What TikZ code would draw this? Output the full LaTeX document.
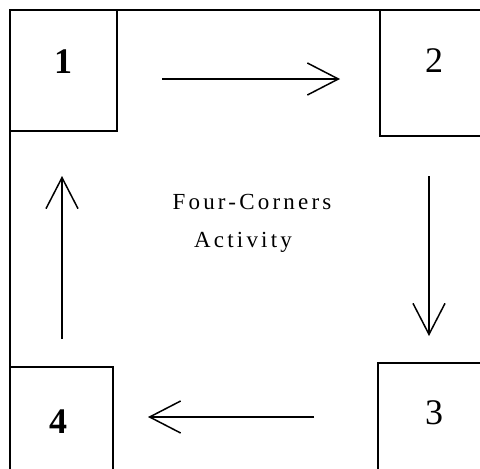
\documentclass[tikz,border=0pt]{standalone}
\usepackage{fontspec}
\setmainfont{Liberation Serif}
\usetikzlibrary{positioning,arrows.meta}
\tikzstyle{corners} = [x = 1pt, y = -1pt]
\tikzstyle{cornerBox} = [draw, rectangle, line width = 2pt, inner sep = 0pt]
\tikzstyle{cornerNumber} = [font=\fontsize{36}{40}\selectfont, anchor=base]
\tikzstyle{frameLine} = [line width = 2pt]
\tikzstyle{flowArrow} = [line width = 1.5pt, -{Straight Barb[length=31pt, width=32pt, line width=1.5pt]}]
\tikzstyle{activityText} = [font=\fontsize{23}{27}\selectfont\addfontfeatures{LetterSpace=14}, anchor=base]
\begin{document}
\begin{tikzpicture}[corners]
  \useasboundingbox (0,0) rectangle (480,469);
  \clip (0,0) rectangle (480,469);

  % outer frame
  \draw [frameLine] (10,520) -- (10,10) -- (520,10);

  % the four corners
  \node [cornerBox, minimum width = 107pt, minimum height = 121pt] (b1) at (63.5,70.5) {};
  \node [cornerBox, minimum width = 120pt, minimum height = 126pt] (b2) at (440,73) {};
  \node [cornerBox, minimum width = 122pt, minimum height = 137pt] (b3) at (439,431.5) {};
  \node [cornerBox, minimum width = 103pt, minimum height = 133pt] (b4) at (61.5,433.5) {};

  \node [cornerNumber, font=\fontsize{36}{40}\selectfont\bfseries] (n1) at (63,73) {1};
  \node [cornerNumber] (n2) at (434,72) {2};
  \node [cornerNumber] (n3) at (434,424) {3};
  \node [cornerNumber, font=\fontsize{36}{40}\selectfont\bfseries] (n4) at (58,433) {4};

  % moving round
  \draw [flowArrow, shorten <= 44pt, shorten >= 39pt] (b1.east |- 0,79) -- (b2.west |- 0,79);
  \draw [flowArrow, shorten <= 39pt, shorten >= 26pt] (b2.south -| 429,0) -- (b3.north -| 429,0);
  \draw [flowArrow, shorten <= 63pt, shorten >= 34pt] (b3.west |- 0,417) -- (b4.east |- 0,417);
  \draw [flowArrow, shorten <= 27pt, shorten >= 44pt] (b4.north -| 62,0) -- (b1.south -| 62,0);

  \node [activityText] (title) at (252,209) {Four-Corners};
  \node [activityText] (sub) at (243,247) {Activity};
\end{tikzpicture}
\end{document}
